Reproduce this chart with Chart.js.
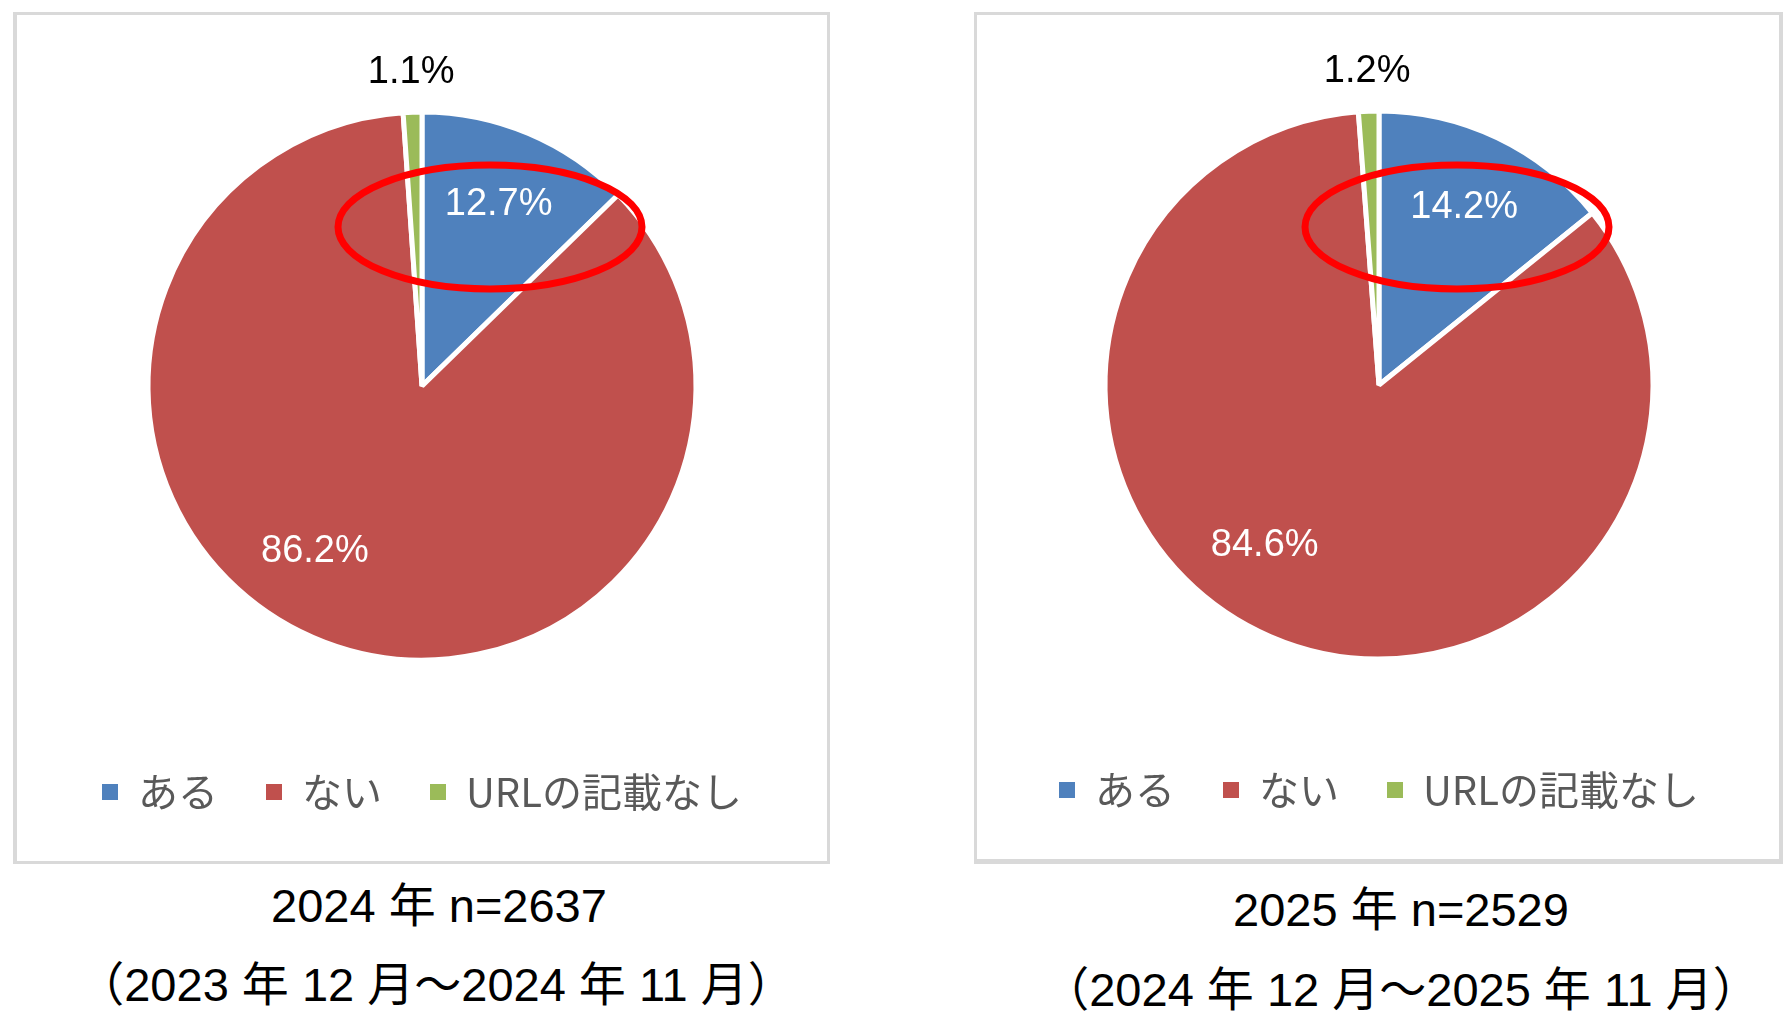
<!DOCTYPE html>
<html lang="ja">
<head>
<meta charset="utf-8">
<title>URL記載の有無</title>
<script src="https://cdn.jsdelivr.net/npm/chart.js@4.4.1/dist/chart.umd.min.js"></script>
<style>
  html, body { margin: 0; padding: 0; background: #fff; }
  body { width: 1792px; height: 1018px; position: relative; overflow: hidden; }
  .frame { position: absolute; box-sizing: border-box; border: 3px solid #d9d9d9; background: #fff; }
  canvas { position: absolute; }
  .caption {
    position: absolute; width: 800px; text-align: center; color: #000;
    font-family: "Liberation Sans", Arial, "Noto Sans CJK JP", sans-serif;
    font-size: 47px; line-height: 60px; white-space: nowrap;
  }
</style>
</head>
<body>
<div class="frame" style="left:13px; top:12px; width:817px; height:852px; border-left-width:4px;"></div>
<div class="frame" style="left:974px; top:12px; width:809px; height:852px; border-right-width:4px; border-bottom-width:5px;"></div>
<canvas id="chart2024" width="812" height="847" style="left:16px; top:15px;"></canvas>
<canvas id="chart2025" width="804" height="847" style="left:977px; top:15px;"></canvas>
<div class="caption" id="title2024" style="left:39px; top:876px;"></div>
<div class="caption" id="period2024" style="left:36px; top:955px;"></div>
<div class="caption" id="title2025" style="left:1001px; top:880px;"></div>
<div class="caption" id="period2025" style="left:1001px; top:960px;"></div>

<script>
// --- データ ---
const categories = ['ある', 'ない', 'URLの記載なし'];
const values2024 = [12.7, 86.2, 1.1];
const values2025 = [14.2, 84.6, 1.2];
const titles = ['2024 年 n=2637', '2025 年 n=2529'];
const periods = ['（2023 年 12 月～2024 年 11 月）', '（2024 年 12 月～2025 年 11 月）'];

const sliceColors = ['#4F81BD', '#C0504D', '#9BBB59'];

// パーセント表示（小さいスライスは外側に黒字）
const sliceLabels = {
    id: 'sliceLabels',
    afterDatasetsDraw(chart, args, opts) {
        const ctx = chart.ctx;
        const values = chart.data.datasets[0].data;
        ctx.save();
        ctx.font = '38px "Liberation Sans", Arial, sans-serif';
        ctx.textAlign = 'center';
        ctx.textBaseline = 'middle';
        chart.getDatasetMeta(0).data.forEach((arc, i) => {
            const p = arc.getProps(['x', 'y', 'startAngle', 'endAngle', 'outerRadius'], true);
            const mid = (p.startAngle + p.endAngle) / 2 + (opts.nudge[i] || 0) * Math.PI / 180;
            const outside = values[i] < 5;
            const dist = outside ? p.outerRadius + opts.outsideGap : p.outerRadius * opts.insideRatio;
            ctx.fillStyle = outside ? '#000000' : '#ffffff';
            ctx.fillText(values[i].toFixed(1) + '%', p.x + Math.cos(mid) * dist, p.y + Math.sin(mid) * dist);
        });
        ctx.restore();
    }
};

// 赤い楕円の強調
const highlight = {
    id: 'highlight',
    afterDraw(chart, args, opts) {
        const arc = chart.getDatasetMeta(0).data[0];
        if (!arc) return;
        const ctx = chart.ctx;
        ctx.save();
        ctx.strokeStyle = '#FF0000';
        ctx.lineWidth = 7;
        ctx.beginPath();
        ctx.ellipse(arc.x + opts.dx, arc.y + opts.dy, opts.rx, opts.ry, 0, 0, Math.PI * 2);
        ctx.stroke();
        ctx.restore();
    }
};

function makePie(id, values, layout) {
    return new Chart(document.getElementById(id), {
        type: 'pie',
        data: {
            labels: categories,
            datasets: [{
                data: values,
                backgroundColor: sliceColors,
                borderColor: '#ffffff',
                borderWidth: 5
            }]
        },
        options: {
            responsive: false,
            animation: false,
            radius: 274,
            layout: { padding: { top: layout.top, bottom: layout.bottom } },
            plugins: {
                legend: {
                    position: 'bottom',
                    labels: {
                        boxWidth: 16,
                        boxHeight: 16,
                        padding: 48,
                        color: '#595959',
                        font: { family: "'Noto Sans CJK JP', sans-serif", size: 40 },
                        // 凡例の四角は枠線なし
                        generateLabels(chart) {
                            const items = Chart.overrides.pie.plugins.legend.labels.generateLabels(chart);
                            items.forEach(item => { item.lineWidth = 0; item.strokeStyle = 'rgba(0,0,0,0)'; });
                            return items;
                        }
                    }
                },
                tooltip: { enabled: false },
                sliceLabels: { insideRatio: 0.72, outsideGap: 40, nudge: [0, 12, 0] },
                highlight: layout.ellipse
            }
        },
        plugins: [sliceLabels, highlight]
    });
}

document.addEventListener('DOMContentLoaded', function() {
    makePie('chart2024', values2024, {
        top: 33, bottom: 40,
        ellipse: { dx: 68, dy: -159, rx: 152, ry: 62 }
    });
    makePie('chart2025', values2025, {
        top: 33, bottom: 42,
        ellipse: { dx: 78, dy: -158, rx: 152, ry: 62 }
    });

    document.getElementById('title2024').textContent = titles[0];
    document.getElementById('period2024').textContent = periods[0];
    document.getElementById('title2025').textContent = titles[1];
    document.getElementById('period2025').textContent = periods[1];
});
</script>
</body>
</html>
